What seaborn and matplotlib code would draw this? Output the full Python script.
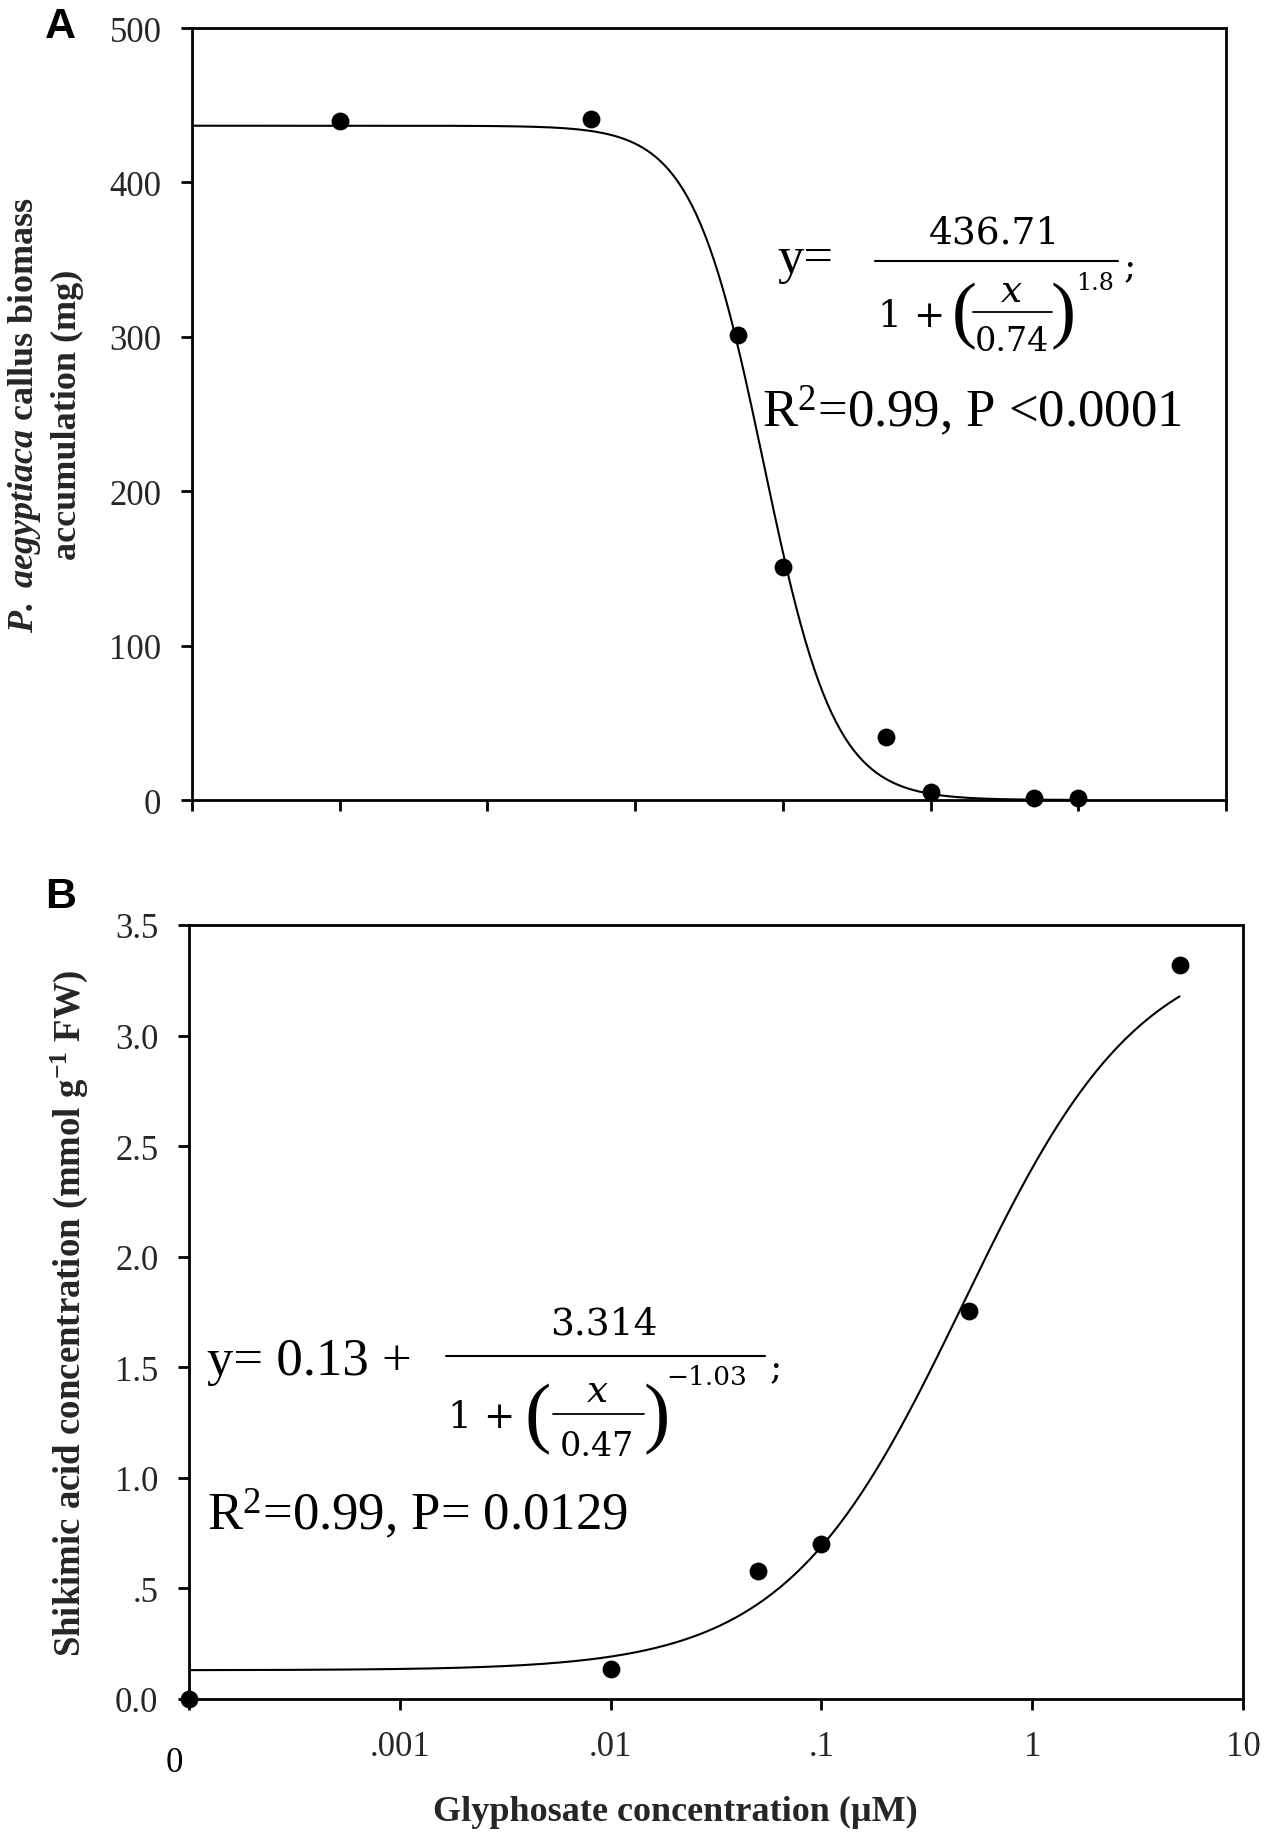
import matplotlib
matplotlib.use("Agg")
import matplotlib.pyplot as plt
from matplotlib.lines import Line2D
from matplotlib.ticker import FixedLocator, FixedFormatter, NullLocator
import seaborn as sns
import numpy as np

# ---- data ----
# panel A: callus biomass vs glyphosate (control drawn at 0.001)
conc_a = [0.001, 0.05, 0.5, 1, 5, 10, 50, 100]
biomass_a = [440, 441, 301, 151, 41, 5, 1.5, 1.5]
# fit printed in panel A: y = top / (1 + (x/ic50)^slope)
fit_a_top = 436.71
fit_a_ic50 = 0.74
fit_a_slope = 1.8

# panel B: shikimic acid vs glyphosate (control "0" drawn at 1e-4)
conc_b = [0.0001, 0.01, 0.05, 0.1, 0.5, 5]
shikimic_b = [0.0, 0.135, 0.58, 0.70, 1.755, 3.32]
fit_b_base = 0.13
fit_b_amp = 3.314
fit_b_ec50 = 0.47
fit_b_slope = -1.03

xticks_a = [1e-4, 1e-3, 1e-2, 1e-1, 1, 10, 100, 1000]
xticks_b = [1e-4, 1e-3, 1e-2, 1e-1, 1, 10]
xticklabels_b = ["", ".001", ".01", ".1", "1", "10"]
yticks_a = [0, 100, 200, 300, 400, 500]
yticks_b = [0, 0.5, 1.0, 1.5, 2.0, 2.5, 3.0, 3.5]
yticklabels_b = ["0.0", ".5", "1.0", "1.5", "2.0", "2.5", "3.0", "3.5"]

sns.set_style("ticks")
plt.rcParams['font.family'] = ['Liberation Serif', 'DejaVu Sans']
plt.rcParams['mathtext.fontset'] = 'custom'
plt.rcParams['mathtext.rm'] = 'Liberation Serif'
plt.rcParams['mathtext.it'] = 'Liberation Serif:italic'
plt.rcParams['mathtext.bf'] = 'Liberation Serif:bold'
if 'mathtext.bfit' in plt.rcParams:
    plt.rcParams['mathtext.bfit'] = 'Liberation Serif:italic:bold'

W, H = 1268, 1840
fig = plt.figure(figsize=(W / 100, H / 100), dpi=100)

def px_axes(l, t, r, b):
    return fig.add_axes([l / W, 1 - b / H, (r - l) / W, (b - t) / H])

ax_a = px_axes(192, 29, 1226, 801)
ax_b = px_axes(189, 926, 1243, 1700)

def style_axis(ax):
    for s in ax.spines.values():
        s.set_visible(True)
        s.set_linewidth(2)
        s.set_color('black')
    ax.tick_params(axis='both', which='major', direction='out', length=8,
                   width=2, color='black', labelsize=25, pad=14)
    ax.set_facecolor('white')

# ---- panel A ----
xs_a = np.logspace(-4, 2, 400)
ys_a = fit_a_top / (1 + (xs_a / fit_a_ic50) ** fit_a_slope)
sns.lineplot(x=xs_a, y=ys_a, ax=ax_a, color='black', linewidth=1.5,
             estimator=None, sort=False)
sns.scatterplot(x=conc_a, y=biomass_a, ax=ax_a, color='black', s=165,
                edgecolor='black', linewidth=0, zorder=5, clip_on=False)
ax_a.set_xscale('log')
ax_a.set_xlim(1e-4, 1e3)
ax_a.set_ylim(0, 500)
ax_a.xaxis.set_major_locator(FixedLocator(xticks_a))
ax_a.xaxis.set_major_formatter(FixedFormatter([""] * len(xticks_a)))
ax_a.xaxis.set_minor_locator(NullLocator())
ax_a.set_yticks(yticks_a)
style_axis(ax_a)
ax_a.set_ylabel(r'$\mathbfit{P.\ aegyptiaca}$ callus biomass' + '\n' + 'accumulation (mg)',
                fontsize=26, fontweight='bold', linespacing=1.3)
ax_a.yaxis.set_label_coords((45 - 192) / 1034, 0.5)
ax_a.yaxis.label.set_va('center')

# ---- panel B ----
xs_b = np.logspace(-4, np.log10(5), 400)
ys_b = fit_b_base + fit_b_amp / (1 + (xs_b / fit_b_ec50) ** fit_b_slope)
sns.lineplot(x=xs_b, y=ys_b, ax=ax_b, color='black', linewidth=1.5,
             estimator=None, sort=False)
sns.scatterplot(x=conc_b, y=shikimic_b, ax=ax_b, color='black', s=165,
                edgecolor='black', linewidth=0, zorder=5, clip_on=False)
ax_b.set_xscale('log')
ax_b.set_xlim(1e-4, 10)
ax_b.set_ylim(0, 3.5)
ax_b.xaxis.set_major_locator(FixedLocator(xticks_b))
ax_b.xaxis.set_major_formatter(FixedFormatter(xticklabels_b))
ax_b.xaxis.set_minor_locator(NullLocator())
ax_b.yaxis.set_major_locator(FixedLocator(yticks_b))
ax_b.yaxis.set_major_formatter(FixedFormatter(yticklabels_b))
style_axis(ax_b)
ax_b.set_ylabel(r'Shikimic acid concentration (mmol g$^{\mathbf{-1}}$ FW)',
                fontsize=26.5, fontweight='bold')
ax_b.yaxis.set_label_coords((69 - 189) / 1054, 0.5)
ax_b.yaxis.label.set_va('center')
ax_b.set_xlabel('Glyphosate concentration (µM)', fontsize=26, fontweight='bold',
                va='center')
ax_b.xaxis.set_label_coords((675 - 189) / 1054, -(1812 - 1700) / 774)

def ftext(x, y, s, size, family='Liberation Serif', **kw):
    kw.setdefault('va', 'baseline')
    kw.setdefault('ha', 'left')
    kw.setdefault('color', 'black')
    return fig.text(x / W, 1 - y / H, s, fontsize=size, family=family, **kw)

def fline(x0, x1, y, lw=1.5):
    fig.add_artist(Line2D([x0 / W, x1 / W], [1 - y / H, 1 - y / H],
                          transform=fig.transFigure, color='black', linewidth=lw))

# the "0" label of the broken log axis sits a bit left and lower
ftext(174, 1772, "0", 25, ha='center')

# panel letters
ftext(45, 7, "A", 31, family='Liberation Sans', fontweight='bold', va='top')
ftext(45, 877, "B", 31, family='Liberation Sans', fontweight='bold', va='top')

# ---- equation, panel A ----
eq = 'DejaVu Serif'
ftext(777, 273, "y=", 38)
ftext(995, 243, "436.71", 27, family=eq, ha='center')
fline(875, 1118, 262)
ftext(878, 327, "1 +", 27, family=eq)
ftext(952, 334, "(", 54)
ftext(1011, 302, "x", 27, family=eq, style='italic', ha='center')
fline(973, 1052, 313, lw=1.3)
ftext(1012, 351, "0.74", 24, family=eq, ha='center')
ftext(1051, 334, ")", 54)
ftext(1076, 290, "1.8", 17, family=eq)
ftext(1124, 277, ";", 26, family=eq)
ftext(762, 427, r"R$^{2}$=0.99, P <0.0001", 38)

# ---- equation, panel B ----
ftext(207, 1375, "y= 0.13 +", 38)
ftext(604, 1335, "3.314", 27, family=eq, ha='center')
fline(446, 765, 1357)
ftext(448, 1428, "1 +", 27, family=eq)
ftext(524, 1438, "(", 57)
ftext(597, 1402, "x", 27, family=eq, style='italic', ha='center')
fline(553, 644, 1415, lw=1.3)
ftext(597, 1456, "0.47", 24, family=eq, ha='center')
ftext(644, 1438, ")", 57)
ftext(666, 1385, "\u22121.03", 19, family=eq)
ftext(770, 1378, ";", 26, family=eq)
ftext(207, 1530, r"R$^{2}$=0.99, P= 0.0129", 38)

fig.savefig("out.png", dpi=100, facecolor='white')
